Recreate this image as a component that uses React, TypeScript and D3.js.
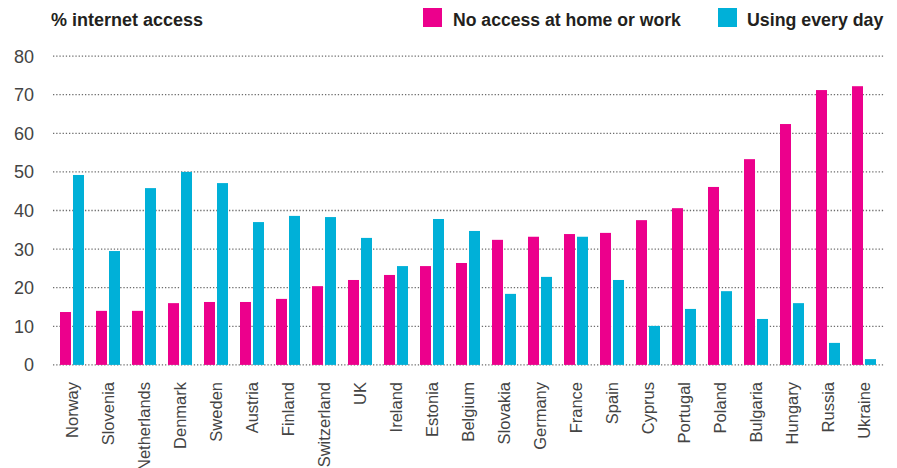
import React from 'react';
import * as d3 from 'd3';

const countries = [
  'Norway', 'Slovenia', 'Netherlands', 'Denmark', 'Sweden', 'Austria', 'Finland',
  'Switzerland', 'UK', 'Ireland', 'Estonia', 'Belgium', 'Slovakia', 'Germany',
  'France', 'Spain', 'Cyprus', 'Portugal', 'Poland', 'Bulgaria', 'Hungary',
  'Russia', 'Ukraine',
];
const noAccess = [
  13.7, 14.0, 14.0, 16.0, 16.3, 16.3, 17.1, 20.4, 22.0, 23.3, 25.6, 26.4, 32.4,
  33.2, 33.9, 34.2, 37.5, 40.6, 46.1, 53.3, 62.4, 71.2, 72.2,
];
const everyDay = [
  49.2, 29.5, 45.8, 50.0, 47.1, 37.0, 38.6, 38.3, 32.9, 25.6, 37.8, 34.7, 18.4,
  22.8, 33.2, 22.0, 10.1, 14.5, 19.1, 11.9, 16.0, 5.7, 1.5,
];
const yTicks = [0, 10, 20, 30, 40, 50, 60, 70, 80];
const seriesNames = ['No access at home or work', 'Using every day'];

const PINK = '#EC008C';
const CYAN = '#00B0D8';
const TEXT = '#444';
const FONT = 'Liberation Sans, Arial, Helvetica, sans-serif';

const App: React.FC = () => {
  const width = 897;
  const height = 468;

  const x = d3.scaleBand<string>()
    .domain(countries)
    .range([54, 882])
    .paddingInner(1 / 3)
    .paddingOuter(1 / 6);

  const xSub = d3.scaleBand<string>()
    .domain(seriesNames)
    .range([0, x.bandwidth()])
    .paddingInner(2 / 13);

  const y = d3.scaleLinear().domain([0, 80]).range([364.9, 56.1]);

  const series = [
    { name: seriesNames[0], values: noAccess, color: PINK },
    { name: seriesNames[1], values: everyDay, color: CYAN },
  ];

  return (
    <svg
      width={width}
      height={height}
      style={{ position: 'absolute', left: 0, top: 0, background: '#fff' }}
      fontFamily={FONT}
    >
      {/* title */}
      <text x={51} y={26} fontSize={18} fontWeight="bold" fill="#231f20">
        % internet access
      </text>

      {/* legend */}
      <rect x={423} y={8} width={19} height={19} fill={PINK} />
      <text x={453} y={26} fontSize={17.6} fontWeight="bold" fill="#231f20">
        {seriesNames[0]}
      </text>
      <rect x={718} y={8} width={19} height={19} fill={CYAN} />
      <text x={747} y={26} fontSize={17.8} fontWeight="bold" fill="#231f20">
        {seriesNames[1]}
      </text>

      {/* grid + y labels */}
      {yTicks.map((t) => (
        <g key={t}>
          <line
            x1={53}
            x2={885}
            y1={y(t)}
            y2={y(t)}
            stroke="#6d6d6d"
            strokeWidth={1.3}
            strokeDasharray="1.3,1.9"
          />
          <text
            x={34}
            y={y(t)}
            dy="0.36em"
            textAnchor="end"
            fontSize={18}
            fill={TEXT}
          >
            {t}
          </text>
        </g>
      ))}

      {/* bars */}
      {series.map((s) => (
        <g key={s.name}>
          {countries.map((c, i) => (
            <rect
              key={c}
              x={(x(c) || 0) + (xSub(s.name) || 0)}
              y={y(s.values[i])}
              width={xSub.bandwidth()}
              height={y(0) - y(s.values[i])}
              fill={s.color}
            />
          ))}
        </g>
      ))}

      {/* x labels */}
      {countries.map((c) => {
        const cx = (x(c) || 0) + x.bandwidth() / 2;
        return (
          <text
            key={c}
            transform={`translate(${cx},382) rotate(-90)`}
            dy="0.35em"
            textAnchor="end"
            fontSize={16.5}
            fill={TEXT}
          >
            {c}
          </text>
        );
      })}
    </svg>
  );
};

export default App;
